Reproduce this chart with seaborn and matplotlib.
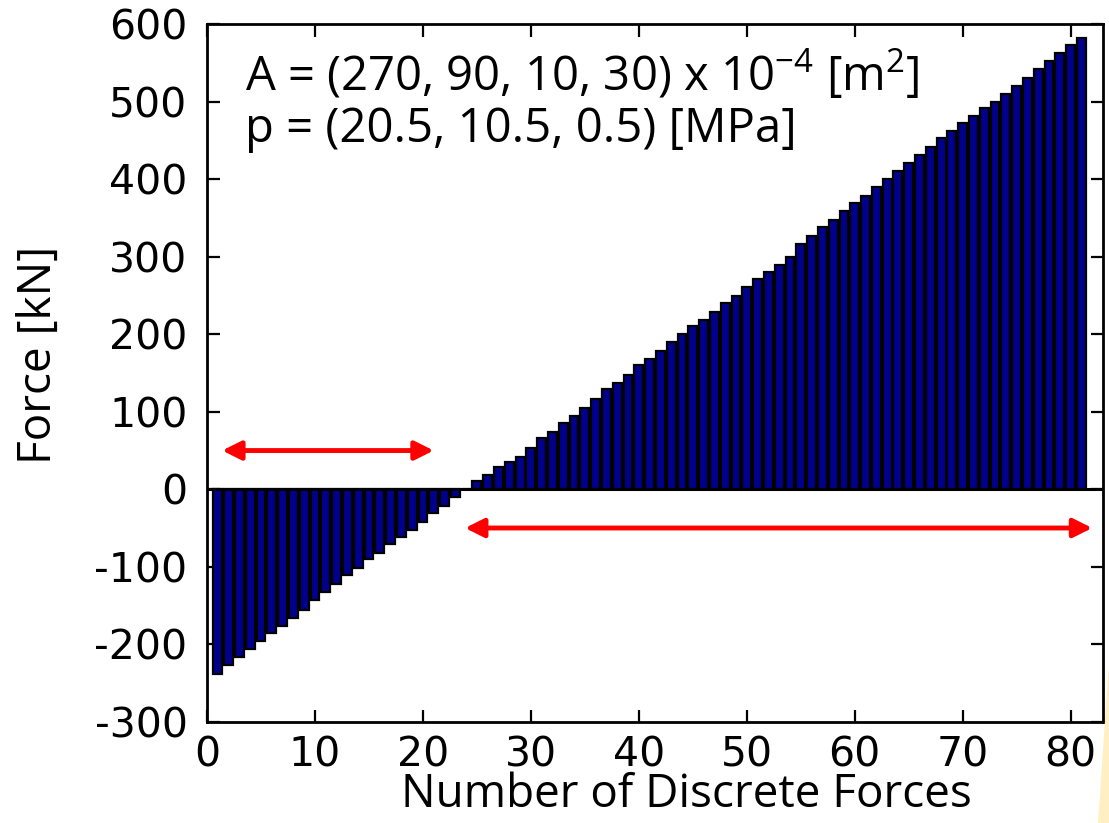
import numpy as np
import pandas as pd
import matplotlib
matplotlib.use('Agg')
import matplotlib.pyplot as plt
from matplotlib.patches import Polygon
import seaborn as sns

# Discrete force values [kN] (bars 1..81)
force_index = list(range(1, 82))
force_values = [
    -238, -227, -216, -206, -196, -185, -177, -166, -156, -143,
    -132, -122, -111, -101, -90, -82, -71, -61, -53, -42,
    -31, -21, -10, 0, 11, 19, 29, 35, 42, 53,
    66, 74, 85, 95, 105, 116, 129, 137, 148, 160,
    168, 179, 190, 200, 211, 219, 229, 240, 250, 261,
    272, 280, 290, 300, 317, 327, 338, 348, 359, 369,
    379, 390, 400, 411, 421, 431, 442, 453, 463, 473,
    482, 492, 500, 510, 521, 531, 542, 553, 563, 574,
    583,
]
x_ticks = [0, 10, 20, 30, 40, 50, 60, 70, 80]
y_ticks = [-300, -200, -100, 0, 100, 200, 300, 400, 500, 600]
label_area = 'A = (270, 90, 10, 30) x 10$^{-4}$ [m$^{2}$]'
label_pressure = 'p = (20.5, 10.5, 0.5) [MPa]'

df = pd.DataFrame({'n': force_index, 'force': force_values})

sns.set_style('ticks')
plt.rcParams['font.family'] = ['DejaVu Sans']
plt.rcParams['text.color'] = 'black'
plt.rcParams['axes.labelcolor'] = 'black'
plt.rcParams['axes.unicode_minus'] = False
label_font = ['Open Sans', 'DejaVu Sans']
plt.rcParams['mathtext.fontset'] = 'custom'
plt.rcParams['mathtext.rm'] = 'Open Sans'
plt.rcParams['mathtext.it'] = 'Open Sans'

fig = plt.figure(figsize=(11.09, 8.23), dpi=100)
ax = fig.add_axes([0.1867, 0.1231, 0.8079, 0.8472])

sns.barplot(data=df, x='n', y='force', native_scale=True, color='#00008C',
            saturation=1, edgecolor='black', linewidth=1.6, width=0.82, ax=ax)
ax.axhline(0, color='black', lw=2.2, zorder=3)

ax.set_xlim(0, 83)
ax.set_ylim(-300, 600)
ax.set_xticks(x_ticks)
ax.set_yticks(y_ticks)

for s in ax.spines.values():
    s.set_visible(True)
    s.set_color('black')
    s.set_linewidth(2)

ax.tick_params(direction='in', top=True, right=True, length=9, width=1.6,
               labelsize=29.5, colors='black')
ax.tick_params(axis='y', pad=14)
ax.tick_params(axis='x', pad=10)

ax.set_xlabel('Number of Discrete Forces', fontsize=33, family=label_font)
ax.set_ylabel('Force [kN]', fontsize=33, family=label_font)
ax.xaxis.set_label_coords(0.535, -0.072)
ax.yaxis.set_label_coords(-0.162, 0.526)

ax.text(0.042, 0.928, label_area, transform=ax.transAxes, fontsize=34,
        family=label_font, va='center', ha='left')
ax.text(0.042, 0.849, label_pressure, transform=ax.transAxes, fontsize=34,
        family=label_font, va='center', ha='left')

# red double-headed arrows
arrow = dict(arrowstyle='<|-|>', color='red', lw=3.5, mutation_scale=28,
             shrinkA=0, shrinkB=0)
ax.annotate('', xy=(21.0, 50), xytext=(1.4, 50), arrowprops=arrow)
ax.annotate('', xy=(82.0, -50), xytext=(23.9, -50), arrowprops=arrow)

# pale yellow sliver in the lower-right corner of the slide
fig.patches.append(Polygon([[1108 / 1109, 1 - 677 / 823], [1.0, 1 - 668 / 823],
                            [1.0, 0.0], [1098 / 1109, 0.0]],
                           closed=True, transform=fig.transFigure,
                           facecolor='#FFEFC2', edgecolor='none'))

fig.savefig('out.png', dpi=100)
